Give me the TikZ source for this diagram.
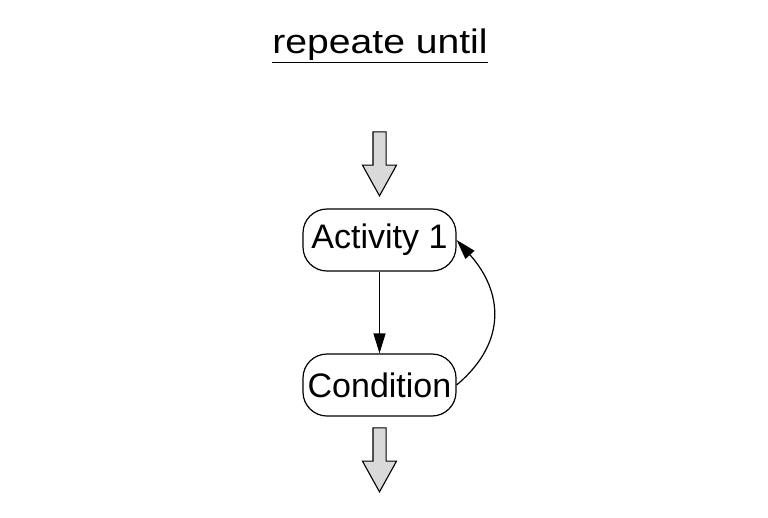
\documentclass[tikz,border=0pt]{standalone}
\usepackage{fontspec}
\setmainfont{Liberation Sans}
\usetikzlibrary{positioning,shapes.arrows,arrows.meta}
\begin{document}
\begin{tikzpicture}[x=1pt,y=-1pt,
  activity/.style={rectangle, rounded corners=24pt, minimum width=153pt, minimum height=62pt, inner sep=0pt, text centered, draw=black, line width=1.2pt, font=\fontsize{34}{38}\selectfont},
  flowarrow/.style={single arrow, draw=black, fill=black!15, line width=1.1pt, rotate=-90, anchor=tip, minimum height=64pt, inner xsep=0pt, inner ysep=6pt, single arrow head extend=10.5pt, single arrow tip angle=58}]
\useasboundingbox (0,0) rectangle (768,517);
\node[font=\fontsize{34}{38}\selectfont] (T) at (380,46) {\underline{\scalebox{1.15}[1]{repeate until}}};
\node[activity] (A1) at (379.5,240) {Activity 1};
\node[activity] (C1) at (379.5,385) {Condition};
\node[flowarrow] (In) at (379.5,197) {};
\node[flowarrow] (Out) at (379.5,493) {};
\draw[line width=1.2pt, -{Triangle[length=20pt,width=12pt]}] (A1) -- (C1);
\draw[line width=1.2pt, -{Triangle[length=20pt,width=12pt]}] (C1.east) to[out=40, in=-48, looseness=1.2] (A1.east);
\end{tikzpicture}
\end{document}
